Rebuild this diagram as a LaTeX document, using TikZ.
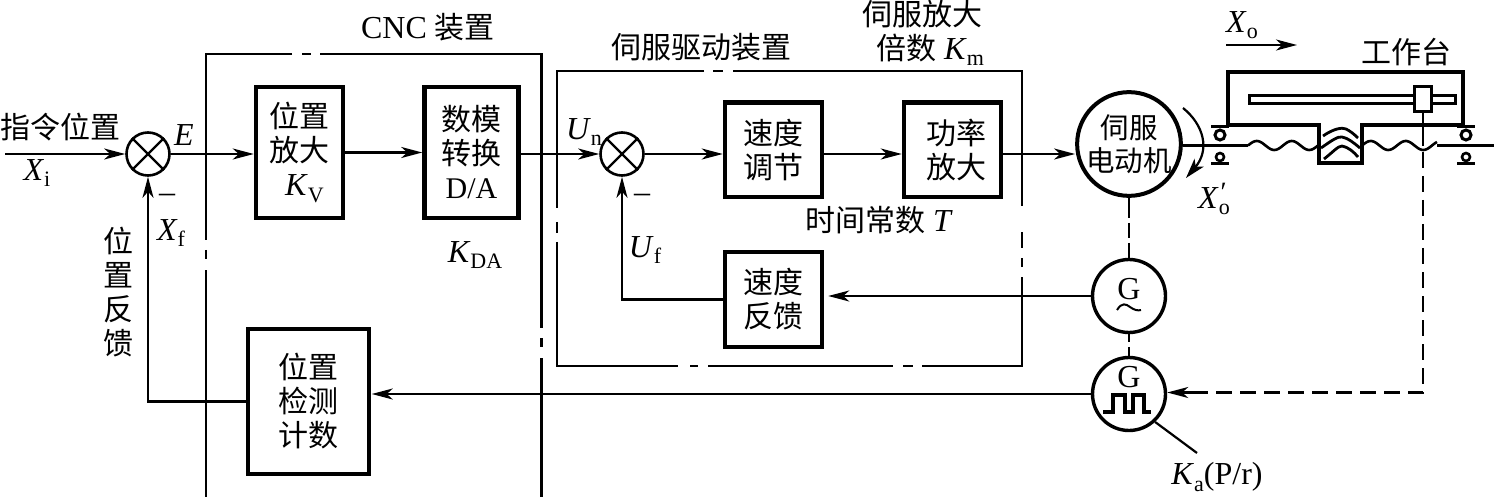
\documentclass[tikz,border=0pt]{standalone}
\usepackage{fontspec}
\setmainfont{Liberation Serif}
\newfontfamily\cjk{Noto Sans CJK SC}
\usetikzlibrary{arrows.meta,calc}
\newcommand{\ls}[2]{\textit{#1}\raisebox{-0.2em}{\fontsize{22}{22}\selectfont #2}}
\newcommand{\cj}[1]{{\cjk\fontsize{30}{34}\selectfont #1}}
\tikzset{
  wire/.style={line width=2.2pt,line cap=butt},
  arr/.style={wire,-{Stealth[length=21pt,width=11pt,inset=6pt]}},
  frame/.style={line width=2.2pt},
  blk/.style={draw,line width=4.5pt,fill=white,align=center,inner sep=0pt,font=\cjk\fontsize{30}{34}\selectfont},
  blkb/.style={blk,line width=3.5pt},
  sumj/.style={draw,circle,line width=2.6pt,minimum size=43pt,inner sep=0pt},
  motorc/.style={draw,circle,line width=4pt,minimum size=102pt,inner sep=0pt,align=center,font=\cjk\fontsize{28.5}{33}\selectfont},
  genc/.style={draw,circle,line width=3.4pt,minimum size=73pt,inner sep=0pt},
  txt/.style={inner sep=0pt,align=center,font=\fontsize{32}{34}\selectfont},
  ctxt/.style={inner sep=0pt,align=center,font=\cjk\fontsize{30}{34}\selectfont},
  dsh/.style={line width=2.2pt,dash pattern=on 16pt off 8pt},
  mech/.style={line width=3.4pt},
  roller/.style={line width=3pt}
}
\begin{document}
\begin{tikzpicture}[x=1pt,y=-1pt]
\useasboundingbox (0,0) rectangle (1494,497);
% CNC frame
\draw[frame] (292,54) -- (206,54) -- (206,240);
\draw[frame] (302,54) -- (311,54);
\draw[frame] (320,54) -- (541.5,54) -- (541.5,328);
\draw[frame] (206,250) -- (206,259);
\draw[frame] (206,270) -- (206,497);
\draw[frame] (541.5,338) -- (541.5,347);
\draw[frame] (541.5,358) -- (541.5,497);
% drive frame
\draw[frame] (704,71) -- (557,71) -- (557,208);
\draw[frame] (713,71) -- (723,71);
\draw[frame] (733,71) -- (1022,71) -- (1022,206);
\draw[frame] (557,222) -- (557,233);
\draw[frame] (557,242) -- (557,366) -- (678,366);
\draw[frame] (690,366) -- (698,366);
\draw[frame] (708,366) -- (893,366);
\draw[frame] (903,366) -- (913,366);
\draw[frame] (922,366) -- (1022,366) -- (1022,277);
\draw[frame] (1022,267) -- (1022,258);
\draw[frame] (1022,248) -- (1022,232);
% blocks
\node[blk,minimum width=87pt,minimum height=131pt] (b1) at (299.5,152.5) {位置\\放大\\\hspace*{10pt}{\rmfamily\fontsize{32}{34}\selectfont\ls{K}{V}}};
\node[blk,minimum width=94pt,minimum height=131pt] (b2) at (471.5,152.5) {数模\\转换\\{\rmfamily D/A}};
\node[blk,minimum width=97pt,minimum height=94.5pt] (b3) at (773.5,150) {速度\\调节};
\node[blk,minimum width=97pt,minimum height=94.5pt] (b4) at (952.5,150) {\hspace*{8pt}功率\\\hspace*{8pt}放大};
\node[blk,minimum width=97pt,minimum height=95pt] (b5) at (773.5,299.5) {速度\\反馈};
\node[blkb,minimum width=121pt,minimum height=145pt] (b6) at (308.5,401.5) {位置\\检测\\计数};
% junctions
\node[sumj] (s1) at (148,154) {};
\node[sumj] (s2) at (622,154) {};
\draw[wire] (s1.north west) -- (s1.south east);
\draw[wire] (s1.north east) -- (s1.south west);
\draw[wire] (s2.north west) -- (s2.south east);
\draw[wire] (s2.north east) -- (s2.south west);
% motor and generators
\node[motorc] (m) at (1129,144) {伺服\\电动机};
\node[genc] (g1) at (1129,296) {};
\node[genc] (g2) at (1129,394) {};
\node[txt] (g1t) at (1129,289) {G};
\node[txt] (g2t) at (1129,377) {G};
\draw[line width=2pt] (1117,310) .. controls (1122,302) and (1126,304) .. (1130,307) .. controls (1134,310) and (1138,311) .. (1141,310);
% connectors
\coordinate (in) at (5,154);
\draw[arr] (in) -- (s1);
\draw[arr] (s1.east) -- (b1.west |- s1);
\draw[arr] (b1) ++(43.5,0) -- (b2.west);
\draw[arr] (b2.east |- s2) -- (s2.west);
\draw[arr] (s2.east) -- (b3.west |- s2);
\draw[arr] (b3.east |- s2) -- (b4.west |- s2);
\draw[arr] (b4.east |- s2) -- (m.west |- s2);
\draw[arr,shorten >=4pt] (g1.west) -- (b5.east |- g1);
\draw[arr,shorten >=1pt] (g2.west) -- (b6.east |- g2);
\draw[arr] (b5.west) -| (s2.south);
\draw[arr] (b6.west) -| (s1.south);
% dashed couplings
\draw[wire] (m.south) -- ++(0,20);
\draw[wire] (1129,223) -- (1129,238);
\draw[wire] (g1.north) ++(0,-15) -- (g1.north);
\draw[wire] (g1.south) -- ++(0,8);
\draw[wire] (g2.north) ++(0,-9) -- (g2.north);
% pulse
\draw[line width=4pt,line join=miter] (1103,412) -- (1113,412) -- (1113,395) -- (1125,395) -- (1125,412) -- (1133,412) -- (1133,395) -- (1144,395) -- (1144,412) -- (1151,412);
\coordinate (kal) at (1197,453);
\draw[wire] (g2.-47) -- (kal);
% worktable
\draw[mech] (1228,125) -- (1228,72) -- (1463,72) -- (1463,125) -- (1362,125) -- (1362,163) -- (1319,163) -- (1319,125) -- cycle;
\draw[line width=3pt] (1249,95.5) rectangle (1455,104);
\node[draw,line width=3pt,fill=white,minimum width=17pt,minimum height=25pt,inner sep=0pt] (slider) at (1423,99) {};
% screw
\coordinate (sl) at (1248,145.5);
\coordinate (sr) at (1437,145.5);
\draw[wire,line width=2.6pt] (m.east |- sl) -- (sl);
\draw[wire,line width=2.6pt] (sr) -- (1494,145.5);
\draw[wire,line width=2.6pt,smooth] plot[domain=0:71,samples=50] ({1248+\x},{145.5-4.5*sin(\x*10.2857)});
\draw[wire,line width=2.6pt,smooth] plot[domain=0:75,samples=50] ({1362+\x},{145.5-4.5*sin(\x*10.2857)});
\draw[line width=2.8pt] (1323,136) .. controls (1333,129) and (1342,127) .. (1346,129) .. controls (1350,131) and (1354,134) .. (1358,138);
\draw[line width=2.8pt] (1321,148) .. controls (1331,141) and (1338,136) .. (1342,137) .. controls (1348,138) and (1354,143) .. (1360,148);
\draw[line width=2.8pt] (1324,159) .. controls (1333,152) and (1338,146) .. (1342,146) .. controls (1348,147) and (1354,152) .. (1358,157);
\draw[wire] (slider.south) -- (1423,146);
% rollers
\foreach \cx/\nm in {1220/a,1466/b}{
  \draw[roller] (\cx-9,127) -- (\cx+9,127);
  \node[draw,circle,line width=3pt,minimum size=10pt,inner sep=0pt,fill=white] (rt\nm) at (\cx,135) {};
  \draw[roller] (\cx-9,164) -- (\cx+9,164);
  \node[draw,circle,line width=2.6pt,minimum size=8pt,inner sep=0pt,fill=white] (rb\nm) at (\cx,157) {};
}
% position feedback dashed
\coordinate (dc) at (1423,392.5);
\draw[dsh] (1423,152) -- (dc) -- (1192,392.5);
\draw[arr] (1195,392.5) -- (g2.east |- dc);
% rotation arrow
\coordinate (ra) at (1183,108);
\coordinate (rb) at (1186,178);
\draw[wire,-{Stealth[length=20pt,width=12pt,inset=5pt]}] (ra) .. controls (1204,125) and (1210,150) .. (rb);
% output arrow
\coordinate (oa) at (1226,45);
\coordinate (ob) at (1297,45);
\draw[arr] (oa) -- (ob);
% labels
\node[txt] (tcnc) at (428,27) {CNC \cj{装置}};
\node[ctxt] (t1) at (61,127) {指令位置};
\node[txt] (tXi) at (37,173) {\ls{X}{i}};
\node[txt] (tE) at (184,135) {\textit{E}};
\node[txt] (tm1) at (167,198) {–};
\node[txt] (tXf) at (171,233) {\ls{X}{f}};
\node[txt] (tKda) at (475,255) {\ls{K}{DA}};
\node[ctxt] (tfb) at (118,292) {位\\置\\反\\馈};
\node[txt] (tUn) at (584,132) {\ls{U}{n}};
\node[txt] (tm2) at (642,198) {–};
\node[txt] (tUf) at (645,250) {\ls{U}{f}};
\node[ctxt] (tdrv) at (701,47) {伺服驱动装置};
\node[ctxt] (tamp) at (922,14) {伺服放大};
\node[txt] (tkm) at (930,50) {\cj{倍数} \ls{K}{m}};
\node[txt] (tT) at (879,220) {\cj{时间常数} \textit{T}};
\node[txt] (tXo) at (1242,25) {\ls{X}{o}};
\node[ctxt] (twt) at (1406,52) {工作台};
\node[txt] (tXop) at (1214,199) {\textit{X}\rlap{\raisebox{7pt}{\fontsize{28}{28}\selectfont\textit{′}}}\raisebox{-0.2em}{\fontsize{22}{22}\selectfont o}};
\node[txt] (tKa) at (1217,477) {\ls{K}{a}(P/r)};
\end{tikzpicture}
\end{document}
